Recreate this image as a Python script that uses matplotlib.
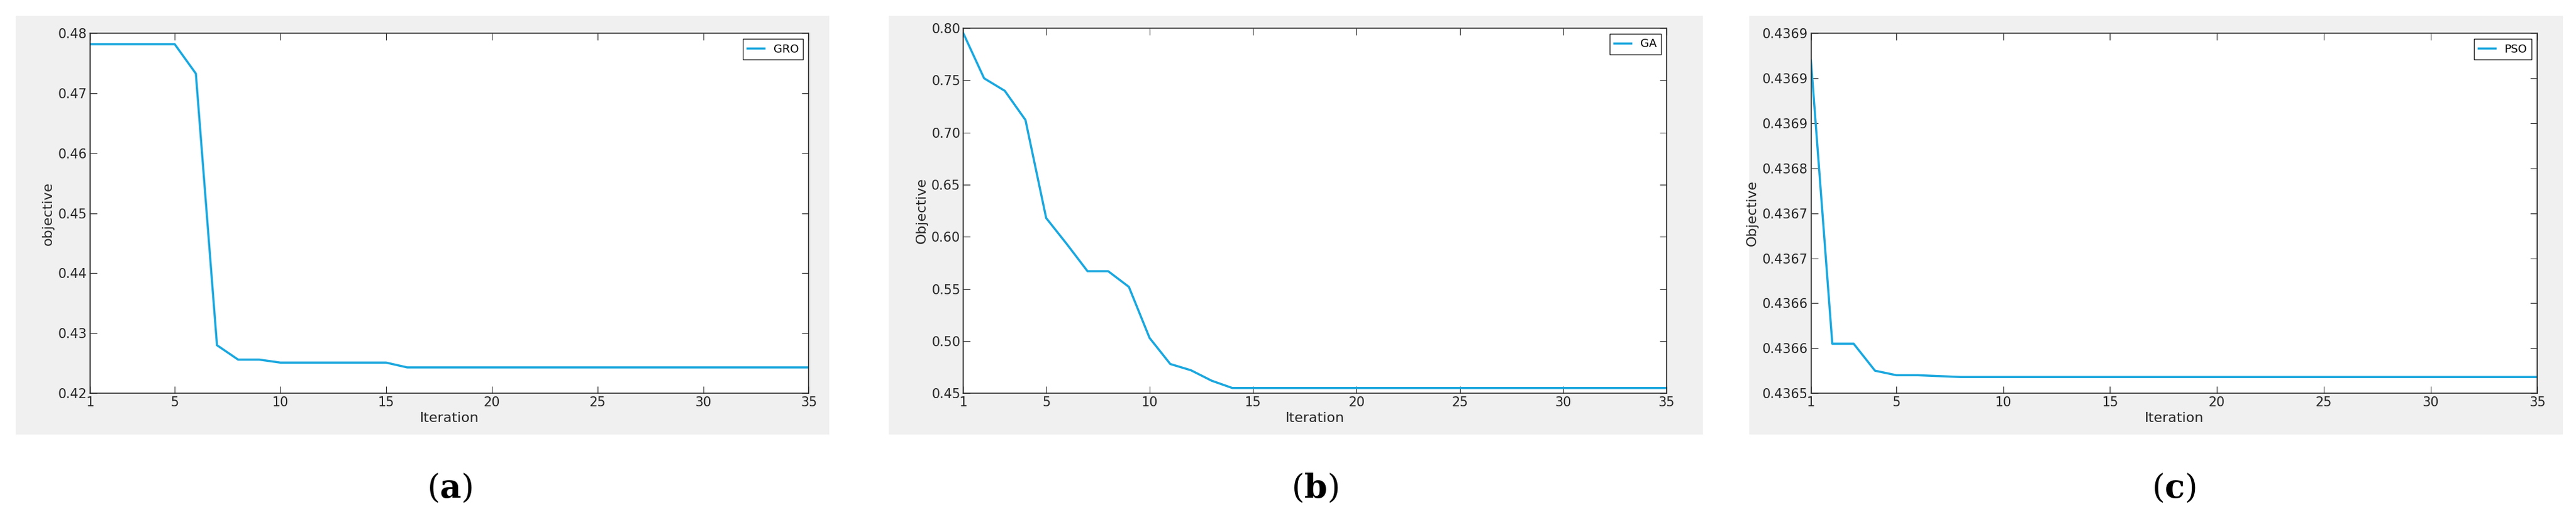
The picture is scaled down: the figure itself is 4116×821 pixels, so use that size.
import numpy as np
import matplotlib.pyplot as plt

plt.rcParams['mathtext.fontset'] = 'dejavuserif'

iters = np.arange(1, 36)

gro = [0.4782] * 5 + [0.4733, 0.4280, 0.4256, 0.4256] + [0.4251] * 6 + [0.4243] * 20
ga = [0.795, 0.752, 0.740, 0.712, 0.618, 0.593, 0.567, 0.567, 0.552, 0.503,
      0.478, 0.472, 0.462, 0.455] + [0.455] * 21
pso = [0.43687, 0.436555, 0.436555, 0.436525, 0.43652, 0.43652, 0.436519] + [0.436518] * 28

xticks = [1, 5, 10, 15, 20, 25, 30, 35]
pso_yticks = [0.43650, 0.43655, 0.43660, 0.43665, 0.43670, 0.43675, 0.43680, 0.43685, 0.43690]
pso_ylabels = ['0.4365', '0.4366', '0.4366', '0.4367', '0.4367', '0.4368', '0.4369', '0.4369', '0.4369']

panels = [
    dict(y=gro, name='GRO', ylabel='objective', ylim=(0.42, 0.48),
         yticks=[0.42, 0.43, 0.44, 0.45, 0.46, 0.47, 0.48], ylabels=None, tag='a'),
    dict(y=ga, name='GA', ylabel='Objective', ylim=(0.45, 0.8),
         yticks=[0.45, 0.5, 0.55, 0.6, 0.65, 0.7, 0.75, 0.8], ylabels=None, tag='b'),
    dict(y=pso, name='PSO', ylabel='Objective', ylim=(0.43650, 0.43690),
         yticks=pso_yticks, ylabels=pso_ylabels, tag='c'),
]

fig = plt.figure(figsize=(41.16, 8.21), dpi=100)
gray_boxes = [(0.006, 0.155, 0.316, 0.815), (0.345, 0.155, 0.316, 0.815), (0.679, 0.155, 0.316, 0.815)]
axes_pos = [(0.035, 0.235, 0.279, 0.70), (0.374, 0.235, 0.273, 0.71), (0.703, 0.235, 0.282, 0.70)]
line_color = '#1aa7de'

for p, gb, ap in zip(panels, gray_boxes, axes_pos):
    bg = fig.add_axes(gb, zorder=-1)
    bg.set_facecolor('#f0f0f0')
    bg.set_xticks([])
    bg.set_yticks([])
    for s in bg.spines.values():
        s.set_visible(False)

    ax = fig.add_axes(ap, zorder=1)
    ax.plot(iters, p['y'], color=line_color, lw=2.5, label=p['name'])
    ax.set_xlim(1, 35)
    ax.set_ylim(*p['ylim'])
    ax.set_xticks(xticks)
    ax.set_yticks(p['yticks'])
    if p['ylabels']:
        ax.set_yticklabels(p['ylabels'])
    ax.tick_params(labelsize=15, direction='in', length=8, colors='#262626',
                   top=True, right=True)
    for s in ax.spines.values():
        s.set_color('#262626')
        s.set_linewidth(1.2)
    ax.set_xlabel('Iteration', fontsize=16, color='#262626')
    ax.set_ylabel(p['ylabel'], fontsize=16, color='#262626')
    ax.legend(loc='upper right', fontsize=13, handlelength=1.5, fancybox=False,
              edgecolor='#262626', framealpha=1)
    cx = ap[0] + ap[2] / 2
    fig.text(cx, 0.05, r'($\mathbf{' + p['tag'] + r'}$)', ha='center', va='center',
             fontsize=38, family='DejaVu Serif')

fig.savefig('out.png', dpi=100)
